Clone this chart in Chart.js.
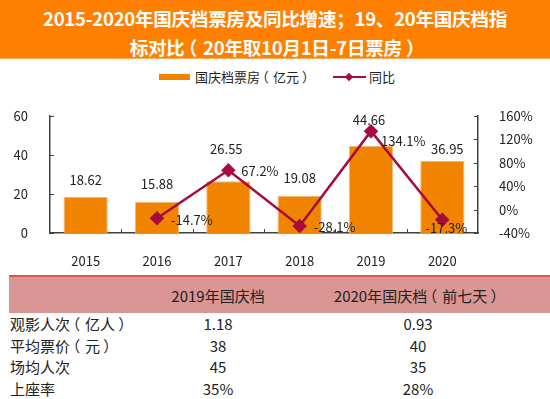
<!DOCTYPE html>
<html>
<head>
<meta charset="utf-8">
<script src="https://cdn.jsdelivr.net/npm/chart.js@4.4.1/dist/chart.umd.min.js"></script>
<style>
  html, body { margin: 0; padding: 0; background: #fff; }
  body { width: 550px; height: 399px; position: relative; overflow: hidden;
         font-family: "Noto Sans CJK SC", "Noto Sans", sans-serif; color: #222; }
  #title { position: absolute; left: 0; top: 0; width: 550px; height: 59px;
           background: #ff7f00; color: #fff; font-weight: bold; font-size: 18.6px; letter-spacing: -0.3px;
           line-height: 28.5px; text-align: center; padding-top: 4px; box-sizing: border-box;
           border-bottom: 1px solid #ffb066; }
  #chartBox { position: absolute; left: 0; top: 0; width: 550px; height: 275px; }
  .lg { position: absolute; }
  .lgText { font-size: 13px; line-height: 16px; top: 69px; white-space: nowrap; }
  .po { display: inline-block; width: 1em; position: relative; left: -0.32em; }
  .pc { display: inline-block; width: 1em; position: relative; left: 0.22em; }
  #tbl { position: absolute; left: 9px; top: 275px; width: 541px; border-collapse: collapse; font-size: 15px; }
  #tbl th { background: #d99694; font-weight: normal; height: 36px; padding: 0; border-top: 2px solid #d9534f; white-space: nowrap; }
  #tbl td { height: 20.6px; padding: 1px 0 0 0; line-height: 20px; white-space: nowrap; }
  #tbl tr:last-child td { border-bottom: 2px solid #d9534f; }
  #tbl td:first-child { text-align: left; padding-left: 1px; }
  #tbl td.c { text-align: center; }
</style>
</head>
<body>
<div id="title">2015-2020年国庆档票房及同比增速；19、20年国庆档指<br>标对比<span class="po">（</span>20年取10月1日-7日票房<span class="pc">）</span></div>

<div class="lg" style="left:159px; top:74px; width:31px; height:6px; background:#f08300;"></div>
<div class="lg lgText" id="lgBar" style="left:195px;"></div>
<div class="lg" style="left:333px; top:76px; width:33px; height:2px; background:#a50d3e;"></div>
<div class="lg" style="left:346px; top:73.5px; width:6px; height:6px; background:#a50d3e; transform:rotate(45deg);"></div>
<div class="lg lgText" id="lgLine" style="left:369px;"></div>

<div id="chartBox"><canvas id="myChart" width="550" height="275"></canvas></div>

<table id="tbl"></table>

<script>
// 年份与票房数据
const years = ["2015", "2016", "2017", "2018", "2019", "2020"];
const boxOffice = [18.62, 15.88, 26.55, 19.08, 44.66, 36.95];   // 亿元
const yoyGrowth = [null, -14.7, 67.2, -28.1, 134.1, -17.3];     // %
const seriesNames = ["国庆档票房（亿元）", "同比"];

// 表格数据
const tableHead = ["", "2019年国庆档", "2020年国庆档（前七天）"];
const tableItems = ["观影人次（亿人）", "平均票价（元）", "场均人次", "上座率"];
const values2019 = ["1.18", "38", "45", "35%"];
const values2020 = ["0.93", "40", "35", "28%"];

const barColor = "#f08300";
const lineColor = "#a50d3e";

// 全角括号居中显示
const fullParen = s => s.replace(/（/g, '<span class="po">（</span>').replace(/）/g, '<span class="pc">）</span>');

document.getElementById("lgBar").innerHTML = fullParen(seriesNames[0]);
document.getElementById("lgLine").innerHTML = fullParen(seriesNames[1]);

// 标签位置微调（与数据分开）
const barLabelLift = [17, 17.5, 32, 17.5, 26, 11.5];
const barLabelShift = [0, 0, -2, 0, -2, 5];
const lineLabelPos = [null, [14, 2, "left"], [13, 1, "left"], [14, 1, "left"], [10, 10, "left"], [4, 8, "center"]];

// 内向刻度线
const innerTicks = {
  id: "innerTicks",
  afterDraw(chart) {
    const ctx = chart.ctx;
    const x = chart.scales.x, y = chart.scales.y, y1 = chart.scales.y1;
    ctx.save();
    ctx.strokeStyle = "#404040";
    ctx.lineWidth = 1;
    ctx.beginPath();
    y.ticks.forEach(t => {
      let py = Math.round(y.getPixelForValue(t.value)) + 0.5;
      ctx.moveTo(y.right, py); ctx.lineTo(y.right + 4, py);
    });
    y1.ticks.forEach(t => {
      let py = Math.round(y1.getPixelForValue(t.value)) + 0.5;
      ctx.moveTo(y1.left - 4, py); ctx.lineTo(y1.left, py);
    });
    for (let i = 1; i < years.length; i++) {
      let px = Math.round((x.getPixelForTick(i - 1) + x.getPixelForTick(i)) / 2) + 0.5;
      ctx.moveTo(px, x.top); ctx.lineTo(px, x.top - 4);
    }
    ctx.stroke();
    ctx.restore();
  }
};

// 数据标签
const valueLabels = {
  id: "valueLabels",
  afterDatasetsDraw(chart) {
    const ctx = chart.ctx;
    ctx.save();
    ctx.font = "13px 'Noto Sans CJK SC', 'Noto Sans', sans-serif";
    ctx.fillStyle = "#222";
    ctx.textBaseline = "middle";
    chart.getDatasetMeta(1).data.forEach((bar, i) => {
      ctx.textAlign = "center";
      ctx.fillText(boxOffice[i].toFixed(2), bar.x + barLabelShift[i], bar.y - barLabelLift[i]);
    });
    chart.getDatasetMeta(0).data.forEach((pt, i) => {
      if (yoyGrowth[i] === null) return;
      let p = lineLabelPos[i];
      ctx.textAlign = p[2];
      ctx.fillText(yoyGrowth[i].toFixed(1) + "%", pt.x + p[0], pt.y + p[1]);
    });
    ctx.restore();
  }
};

let ctx = document.getElementById("myChart").getContext("2d");
new Chart(ctx, {
  type: "bar",
  data: {
    labels: years,
    datasets: [
      {
        type: "line",
        label: seriesNames[1],
        data: yoyGrowth,
        yAxisID: "y1",
        borderColor: lineColor,
        backgroundColor: lineColor,
        borderWidth: 2.5,
        pointStyle: "rectRot",
        pointRadius: 5.5,
        pointBackgroundColor: lineColor,
        pointBorderColor: lineColor,
        tension: 0,
        order: 0
      },
      {
        label: seriesNames[0],
        data: boxOffice,
        yAxisID: "y",
        backgroundColor: barColor,
        borderColor: "#f7b877",
        borderWidth: 1,
        barPercentage: 0.62,
        categoryPercentage: 1,
        order: 1
      }
    ]
  },
  options: {
    responsive: false,
    animation: false,
    devicePixelRatio: 1,
    layout: { padding: { top: 116, left: 0, right: 0, bottom: 0 } },
    plugins: { legend: { display: false }, tooltip: { enabled: false } },
    scales: {
      x: {
        offset: true,
        grid: { display: false },
        border: { color: "#404040", width: 1.5 },
        ticks: { color: "#222", font: { size: 13, family: "'Noto Sans CJK SC', 'Noto Sans', sans-serif" }, padding: 12, maxRotation: 0 },
        afterFit: s => { s.height = 42; }
      },
      y: {
        position: "left",
        min: 0, max: 60,
        grid: { display: false },
        border: { color: "#404040", width: 1.5 },
        ticks: { stepSize: 20, color: "#222", font: { size: 13, family: "'Noto Sans CJK SC', 'Noto Sans', sans-serif" }, padding: 14 },
        afterFit: s => { s.width = 50; }
      },
      y1: {
        position: "right",
        min: -40, max: 160,
        grid: { display: false },
        border: { color: "#404040", width: 1.5 },
        ticks: { stepSize: 40, color: "#222", font: { size: 13, family: "'Noto Sans CJK SC', 'Noto Sans', sans-serif" }, padding: 13,
                 callback: v => v + "%" },
        afterFit: s => { s.width = 72; }
      }
    }
  },
  plugins: [innerTicks, valueLabels]
});

// 生成表格
let output = "<tr>";
tableHead.forEach(h => output += `<th>${fullParen(h)}</th>`);
output += "</tr>";
tableItems.forEach((item, i) => {
  output += `<tr><td style="width:140px">${fullParen(item)}</td><td class="c" style="width:136px">${values2019[i]}</td><td class="c">${values2020[i]}</td></tr>`;
});
document.getElementById("tbl").innerHTML = output;
</script>
</body>
</html>
